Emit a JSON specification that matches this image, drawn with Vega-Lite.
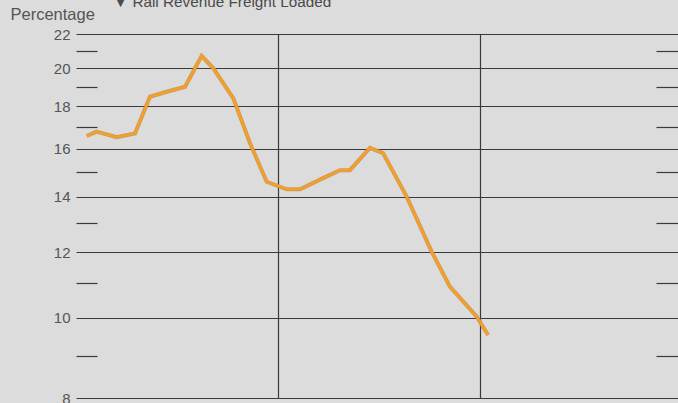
{
  "$schema": "https://vega.github.io/schema/vega-lite/v6.json",
  "autosize": {"type": "none"},
  "padding": {"left": 76, "top": 34, "right": 0, "bottom": 5},
  "width": 606,
  "height": 364,
  "background": "#dcdcdc",
  "title": {
    "text": "▼ Rail Revenue Freight Loaded",
    "anchor": "start",
    "frame": "group",
    "dx": 37,
    "dy": 16,
    "baseline": "alphabetic",
    "offset": 0,
    "font": "Liberation Sans",
    "fontSize": 15.3,
    "fontWeight": "normal",
    "color": "#4a4a4a"
  },
  "config": {
    "view": {"stroke": null},
    "axis": {"labelFont": "Liberation Sans", "titleFont": "Liberation Sans"}
  },
  "data": {
    "values": [
      {"year": 1960.53, "pct": 16.57},
      {"year": 1961.02, "pct": 16.77},
      {"year": 1962.01, "pct": 16.51},
      {"year": 1962.92, "pct": 16.69},
      {"year": 1963.66, "pct": 18.48},
      {"year": 1964.49, "pct": 18.74},
      {"year": 1965.40, "pct": 19.0},
      {"year": 1966.22, "pct": 20.7},
      {"year": 1966.80, "pct": 20.0},
      {"year": 1967.79, "pct": 18.4},
      {"year": 1968.61, "pct": 16.25},
      {"year": 1969.44, "pct": 14.59},
      {"year": 1970.43, "pct": 14.29},
      {"year": 1971.09, "pct": 14.29},
      {"year": 1972.23, "pct": 14.74},
      {"year": 1973.07, "pct": 15.07},
      {"year": 1973.56, "pct": 15.07},
      {"year": 1974.55, "pct": 16.03},
      {"year": 1975.20, "pct": 15.8},
      {"year": 1976.37, "pct": 14.0},
      {"year": 1977.61, "pct": 12.01},
      {"year": 1978.51, "pct": 10.9},
      {"year": 1979.84, "pct": 10.03},
      {"year": 1980.40, "pct": 9.53}
    ]
  },
  "encoding": {
    "x": {
      "field": "year",
      "type": "quantitative",
      "scale": {"domain": [1960, 1990], "nice": false, "zero": false},
      "axis": {
        "values": [1970, 1980],
        "title": null,
        "labels": false,
        "ticks": false,
        "domain": false,
        "grid": true,
        "gridColor": "#3a3a3a",
        "gridWidth": 1.2,
        "gridOpacity": 1
      }
    }
  },
  "layer": [
    {
      "mark": {"type": "line", "color": "#c98a3a", "strokeWidth": 4, "opacity": 0.8},
      "encoding": {
        "y": {
          "field": "pct",
          "type": "quantitative",
          "scale": {"type": "log", "domain": [8, 22], "nice": false, "zero": false},
          "axis": {
            "orient": "left",
            "values": [8, 9, 10, 11, 12, 13, 14, 15, 16, 17, 18, 19, 20, 21, 22],
            "labelExpr": "datum.value % 2 == 0 ? datum.label : ''",
            "labelFontSize": 15,
            "labelColor": "#555555",
            "labelPadding": 27,
            "tickSize": -21,
            "tickColor": "#3a3a3a",
            "tickWidth": 1.2,
            "tickOpacity": {"condition": {"test": "datum.value % 2 == 1", "value": 1}, "value": 0},
            "grid": true,
            "gridColor": "#3a3a3a",
            "gridWidth": 1.2,
            "gridOpacity": {"condition": {"test": "datum.value % 2 == 0", "value": 1}, "value": 0},
            "domain": false,
            "title": "Percentage",
            "titleAngle": 0,
            "titleAlign": "left",
            "titleBaseline": "alphabetic",
            "titleX": -66,
            "titleY": -15,
            "titleFontSize": 16.5,
            "titleFontWeight": "normal",
            "titleColor": "#555555"
          }
        }
      }
    },
    {
      "mark": {"type": "line", "color": "#f2a02a", "strokeWidth": 2.5},
      "encoding": {
        "y": {
          "field": "pct",
          "type": "quantitative",
          "scale": {"type": "log", "domain": [8, 22], "nice": false, "zero": false},
          "axis": {
            "orient": "right",
            "values": [9, 11, 13, 15, 17, 19, 21],
            "labels": false,
            "tickSize": -26,
            "tickColor": "#3a3a3a",
            "tickWidth": 1.2,
            "grid": false,
            "domain": false,
            "title": null
          }
        }
      }
    }
  ]
}
